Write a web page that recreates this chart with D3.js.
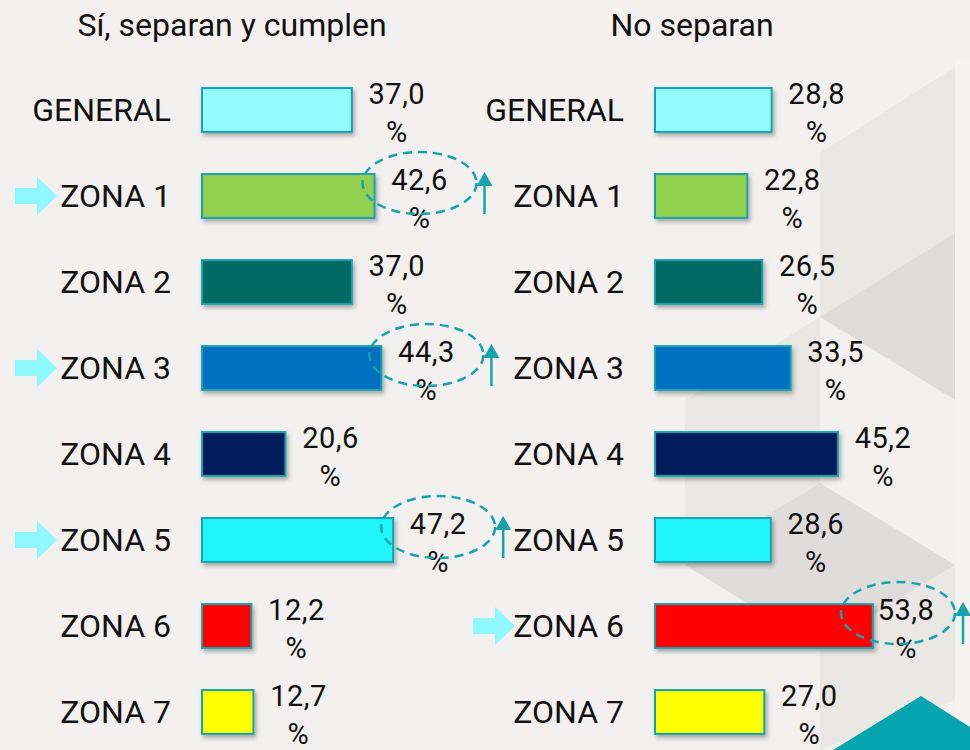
<!DOCTYPE html>
<html>
<head>
<meta charset="utf-8">
<script src="https://cdn.jsdelivr.net/npm/d3@7"></script>
<style>
  body { margin: 0; background: #f2f1ef; }
  svg { display: block; font-family: Roboto, "Open Sans", sans-serif; }
</style>
</head>
<body>
<svg id="chart"></svg>
<script>
const categories = ["GENERAL", "ZONA 1", "ZONA 2", "ZONA 3", "ZONA 4", "ZONA 5", "ZONA 6", "ZONA 7"];
const siSeparan = [37.0, 42.6, 37.0, 44.3, 20.6, 47.2, 12.2, 12.7];
const noSeparan = [28.8, 22.8, 26.5, 33.5, 45.2, 28.6, 53.8, 27.0];
const barColors = ["#93fafd", "#92d050", "#006a64", "#0070c0", "#001f5c", "#22f6fd", "#ff0000", "#ffff00"];
const panelTitles = ["Sí, separan y cumplen", "No separan"];
const highlightSi = ["ZONA 1", "ZONA 3", "ZONA 5"];
const highlightNo = ["ZONA 6"];

const width = 970,
      height = 750,
      teal = "#17a3ad",
      svg = d3.select("#chart")
              .attr("width", width)
              .attr("height", height);

// background decoration (faint cubes + teal corner)
const deco = svg.append("g");
deco.append("rect").attr("width", width).attr("height", height).attr("fill", "#f2f1ef");
const shapes = [
    {pts: [[820,153],[955,67],[955,233],[820,317]], fill: "#e9e8e4"},
    {pts: [[820,317],[955,233],[1090,317],[955,400]], fill: "#dedddb"},
    {pts: [[685,400],[820,317],[820,483],[685,565]], fill: "#e9e8e4"},
    {pts: [[685,565],[820,483],[955,565],[820,648]], fill: "#dedddb"},
    {pts: [[820,648],[955,565],[955,700],[820,750]], fill: "#e9e8e4"},
    {pts: [[955,60],[970,60],[970,750],[955,750]], fill: "#f4f3f1"},
    {pts: [[833,750],[921,696],[970,727],[970,750]], fill: "#05a5af"}
];
deco.selectAll("polygon")
    .data(shapes)
    .enter().append("polygon")
        .attr("points", (d) => d.pts.join(" "))
        .attr("fill", (d) => d.fill);

const defs = svg.append("defs");
defs.append("filter")
    .attr("id", "shadow")
    .attr("x", "-10%").attr("y", "-20%")
    .attr("width", "130%").attr("height", "160%")
  .append("feDropShadow")
    .attr("dx", 2).attr("dy", 3)
    .attr("stdDeviation", 2)
    .attr("flood-color", "#000")
    .attr("flood-opacity", 0.3);

const y = d3.scaleBand()
    .domain(categories)
    .range([67, 755])
    .paddingInner(0.49)
    .paddingOuter(0.245);

const x = d3.scaleLinear()
    .domain([0, 100])
    .range([0, 405]);

const color = d3.scaleOrdinal()
    .domain(categories)
    .range(barColors);

const panels = [
    {title: panelTitles[0], values: siSeparan, highlight: highlightSi, titleX: 232, labelX: 171, barX: 202, arrowX: 15},
    {title: panelTitles[1], values: noSeparan, highlight: highlightNo, titleX: 692, labelX: 624, barX: 655, arrowX: 473}
];

panels.forEach((p) => {
    const g = svg.append("g");
    const rows = categories.map((c, i) => ({cat: c, value: p.values[i]}));

    g.append("text")
        .attr("x", p.titleX)
        .attr("y", 36)
        .attr("text-anchor", "middle")
        .attr("font-size", 32)
        .attr("fill", "#111")
        .text(p.title);

    const row = g.selectAll(".row")
        .data(rows)
        .enter().append("g")
            .attr("class", "row")
            .attr("transform", (d) => `translate(0,${y(d.cat) + y.bandwidth() / 2})`);

    row.append("text")
        .attr("x", p.labelX)
        .attr("y", 11)
        .attr("text-anchor", "end")
        .attr("font-size", 32)
        .attr("fill", "#111")
        .text((d) => d.cat);

    row.append("rect")
        .attr("x", p.barX)
        .attr("y", -y.bandwidth() / 2)
        .attr("width", (d) => x(d.value))
        .attr("height", y.bandwidth())
        .attr("fill", (d) => color(d.cat))
        .attr("stroke", teal)
        .attr("stroke-width", 2)
        .attr("filter", "url(#shadow)");

    const labelCx = (d) => Math.min(p.barX + x(d.value) + 45, 906);
    const ringCx = (d) => Math.min(labelCx(d), 898);

    const lbl = row.append("text")
        .attr("text-anchor", "middle")
        .attr("font-size", 29)
        .attr("letter-spacing", 0.5)
        .attr("fill", "#111");
    lbl.append("tspan")
        .attr("x", labelCx)
        .attr("y", -6)
        .text((d) => d3.format(".1f")(d.value).replace(".", ","));
    lbl.append("tspan")
        .attr("x", labelCx)
        .attr("y", 32)
        .text("%");

    const hi = row.filter((d) => p.highlight.includes(d.cat));

    // light cyan pointer arrow
    hi.append("path")
        .attr("d", `M${p.arrowX},-8 h22 v-11 l20,19 l-20,19 v-11 h-22 z`)
        .attr("fill", "#8ff8fe");

    hi.append("ellipse")
        .attr("cx", ringCx)
        .attr("cy", -13)
        .attr("rx", 57)
        .attr("ry", 31)
        .attr("fill", "none")
        .attr("stroke", teal)
        .attr("stroke-width", 2.5)
        .attr("stroke-dasharray", "9,6");

    hi.append("line")
        .attr("x1", (d) => ringCx(d) + 65)
        .attr("x2", (d) => ringCx(d) + 65)
        .attr("y1", 18)
        .attr("y2", -10)
        .attr("stroke", teal)
        .attr("stroke-width", 2.5);

    hi.append("path")
        .attr("d", (d) => `M${ringCx(d) + 65},-24 l8,14 h-16 z`)
        .attr("fill", teal);
});
</script>
</body>
</html>
